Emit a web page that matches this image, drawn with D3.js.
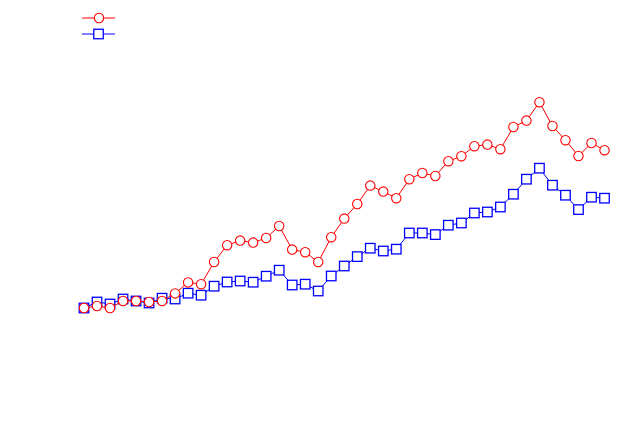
<!DOCTYPE html>
<html>
<head>
<meta charset="utf-8">
<script src="https://cdn.jsdelivr.net/npm/d3@7"></script>
<style>
  html, body { margin: 0; padding: 0; background: #fff; }
  svg { display: block; }
</style>
</head>
<body>
<svg id="chart" width="630" height="436"></svg>
<script>
// Periods (index along the x axis)
const periods = d3.range(41);

// Series 1 (red circles)
const seriesRed = [100, 101, 100, 103.5, 103.5, 103, 103.5, 107.3, 112.8, 111.9,
  123, 131.4, 133.7, 132.7, 135, 141, 129.2, 127.9, 123, 135.4,
  144.7, 152, 161.2, 158.2, 154.9, 164.4, 167.5, 166, 173.4, 175.9,
  180.9, 181.7, 179.4, 190.5, 193.7, 202.9, 191, 183.9, 176, 182.5, 178.9];

// Series 2 (blue squares)
const seriesBlue = [100, 103, 102, 104.5, 103.5, 102.5, 104.9, 104.5, 107.4, 106.4,
  110.9, 113, 113.5, 112.9, 115.9, 118.9, 111.5, 111.9, 108.5, 116,
  121, 125.7, 129.9, 128.5, 129.4, 137.5, 137.5, 136.7, 141.4, 142.5,
  147.5, 148, 150.5, 156.9, 164.4, 169.9, 161.4, 156.4, 149.2, 155.4, 154.9];

const svg = d3.select("#chart");

const x = d3.scaleLinear().domain([0, 40]).range([84, 604.5]);
const y = d3.scaleLinear().domain([100, 200]).range([308, 108]);

const line = d3.line().x((d, i) => x(periods[i])).y(d => y(d));

const SQ = 9.5, R = 4.7;

function drawSquares(g, data, color) {
  g.selectAll("rect").data(data).join("rect")
    .attr("x", (d, i) => x(periods[i]) - SQ / 2)
    .attr("y", d => y(d) - SQ / 2)
    .attr("width", SQ).attr("height", SQ)
    .attr("fill", "#fff").attr("stroke", color).attr("stroke-width", 1.3);
}
function drawCircles(g, data, color) {
  g.selectAll("circle").data(data).join("circle")
    .attr("cx", (d, i) => x(periods[i]))
    .attr("cy", d => y(d))
    .attr("r", R)
    .attr("fill", "#fff").attr("stroke", color).attr("stroke-width", 1.1);
}

// Blue series (below)
const gb = svg.append("g");
gb.append("path").datum(seriesBlue).attr("d", line)
  .attr("fill", "none").attr("stroke", "#0000ff").attr("stroke-width", 1);
drawSquares(gb, seriesBlue, "#0000ff");

// Red series (on top)
const gr = svg.append("g");
gr.append("path").datum(seriesRed).attr("d", line)
  .attr("fill", "none").attr("stroke", "#ff0000").attr("stroke-width", 1);
drawCircles(gr, seriesRed, "#ff0000");

// Legend
const legend = svg.append("g");
const legendItems = [
  { color: "#ff0000", shape: "circle", yPos: 18 },
  { color: "#0000ff", shape: "square", yPos: 34 }
];
legendItems.forEach(it => {
  legend.append("line").attr("x1", 82).attr("x2", 115)
    .attr("y1", it.yPos).attr("y2", it.yPos)
    .attr("stroke", it.color).attr("stroke-width", 1);
  if (it.shape === "circle") {
    legend.append("circle").attr("cx", 99).attr("cy", it.yPos).attr("r", R)
      .attr("fill", "#fff").attr("stroke", it.color).attr("stroke-width", 1.1);
  } else {
    legend.append("rect").attr("x", 98.5 - SQ / 2).attr("y", it.yPos - SQ / 2)
      .attr("width", SQ).attr("height", SQ)
      .attr("fill", "#fff").attr("stroke", it.color).attr("stroke-width", 1.3);
  }
});
</script>
</body>
</html>
